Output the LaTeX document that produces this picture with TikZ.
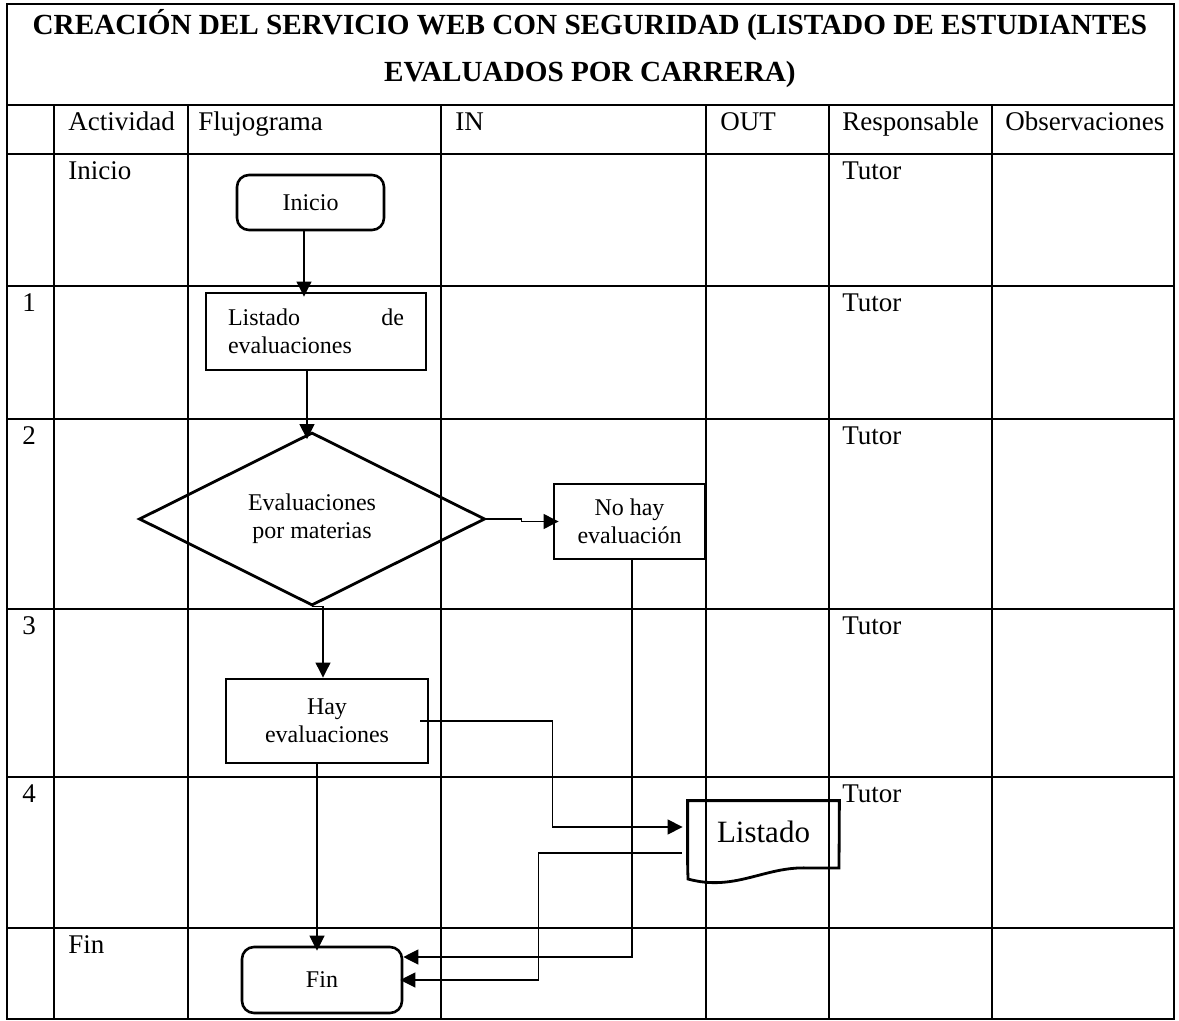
\documentclass[tikz,border=0pt]{standalone}
\usepackage{fontspec}
\setmainfont{Liberation Serif}
\usetikzlibrary{shapes.geometric,arrows.meta,calc}
\begin{document}
\begin{tikzpicture}[x=0.5pt,y=-0.5pt,
  grid/.style={line width=1.25pt},
  lbl/.style={anchor=base west,inner sep=0pt,font=\fontsize{13.5}{16}\selectfont},
  ttl/.style={anchor=base,inner sep=0pt,font=\bfseries\fontsize{14.6}{17}\selectfont},
  fc/.style={font=\fontsize{12}{14}\selectfont,align=center,inner sep=0pt},
  boxr/.style={fc,draw,line width=1.45pt,rectangle},
  term/.style={fc,draw,line width=1.3pt,rounded corners=6pt},
  conn/.style={line width=0.6pt},
  arr/.style={conn,-{Triangle[length=7.5pt,width=7.5pt]}}
]
\fill[white] (0,0) rectangle (1179,1021);
\useasboundingbox (0,0) rectangle (1179,1021);

% table
\draw[grid] (7,4) rectangle (1174,1019);
\foreach \y in {105,154,286,419,609,777,928} \draw[grid] (7,\y) -- (1174,\y);
\foreach \x in {54,188,441,706,829,992} \draw[grid] (\x,105) -- (\x,1019);

% title
\node[ttl] (t1) at (590,35) {CREACIÓN DEL SERVICIO WEB CON SEGURIDAD (LISTADO DE ESTUDIANTES};
\node[ttl] (t2) at (590,82) {EVALUADOS POR CARRERA)};

% header
\node[lbl] (h1) at (68,131) {Actividad};
\node[lbl] (h2) at (198,131) {Flujograma};
\node[lbl] (h3) at (455,131) {IN};
\node[lbl] (h4) at (720,131) {OUT};
\node[lbl] (h5) at (842,131) {Responsable};
\node[lbl] (h6) at (1005,131) {Observaciones};

% row labels
\node[lbl] (r0) at (68,180) {Inicio};
\node[lbl] (r1) at (22,312) {1};
\node[lbl] (r2) at (22,445) {2};
\node[lbl] (r3) at (22,634) {3};
\node[lbl] (r4) at (22,802) {4};
\node[lbl] (r5) at (68,953) {Fin};
\node[lbl] (p0) at (842,180) {Tutor};
\node[lbl] (p1) at (842,312) {Tutor};
\node[lbl] (p2) at (842,445) {Tutor};
\node[lbl] (p3) at (842,634) {Tutor};
\node[lbl] (p4) at (842,802) {Tutor};

% flowchart nodes
\node[term,minimum width=73.5pt,minimum height=27.5pt] (inicio) at (310.5,202.5) {Inicio};
\node[boxr,minimum width=110pt,minimum height=38.5pt,text width=88pt,align=left] (listado) at (316,331.5) {Listado\hfill de\\evaluaciones};
\node[fc,draw,diamond,shape aspect=2,line width=1.4pt,minimum width=173pt,minimum height=86.5pt] (dia) at (312,519) {Evaluaciones\\por materias};
\node[boxr,minimum width=75.5pt,minimum height=37.5pt] (nohay) at (629.5,521.5) {No hay\\evaluación};
\node[boxr,minimum width=101pt,minimum height=42pt] (hay) at (327,721) {Hay\\evaluaciones};
\node[term,minimum width=80pt,minimum height=33pt] (fin) at (322,980) {Fin};
\node[inner sep=0pt,minimum width=75.5pt,minimum height=31pt,font=\fontsize{15.5}{18}\selectfont] (doc) at (763.5,832) {Listado};
\draw[line width=1.4pt] (doc.south west) -- (doc.north west) -- (doc.north east) -- (839,868) -- (808,868) .. controls (765,866) and (735,892) .. (688,879) -- cycle;

% connectors
\draw[arr,shorten >=-2.5pt] ([xshift=-3.25pt]inicio.south) -- ([xshift=-3.25pt]inicio.south |- listado.north);
\draw[arr,shorten >=-4pt] ([xshift=-4.5pt]listado.south) -- ([xshift=-4.5pt]listado.south |- dia.north);
\draw[arr] (dia.south) -- ([xshift=5.5pt]dia.south) -- ([xshift=5.5pt]dia.south |- hay.north);
\draw[arr,shorten >=-3pt] (dia.east) -- ++(17.5pt,0) |- (nohay.west);
\draw[arr] ([xshift=1.25pt]nohay.south) |- ([yshift=11.5pt]fin.east);
\draw[arr,shorten >=2.5pt] ([xshift=-4.5pt]hay.east) -- ++(66pt,0) |- ([yshift=2.5pt]doc.west);
\draw[arr,shorten >=-1.5pt] ([xshift=-3pt,yshift=-10.5pt]doc.west) -- ++(-71.5pt,0) |- (fin.east);
\draw[arr,shorten >=-2.5pt] ([xshift=-5pt]hay.south) -- ([xshift=-5pt]hay.south |- fin.north);
\end{tikzpicture}
\end{document}
